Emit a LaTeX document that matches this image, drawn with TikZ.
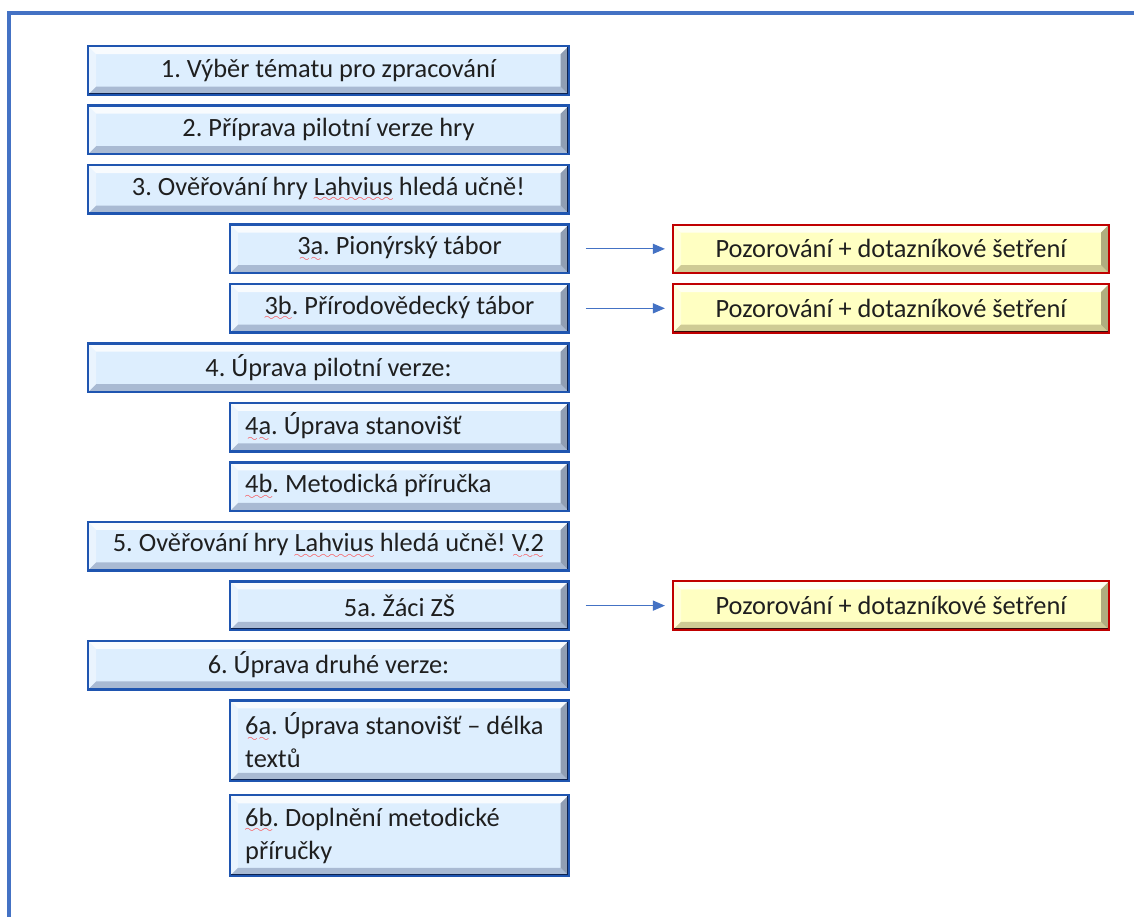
\documentclass[tikz,border=0pt]{standalone}
\usepackage{fontspec}
\setmainfont{Carlito}
\usetikzlibrary{positioning,arrows.meta}
\frenchspacing

\definecolor{frameblue}{HTML}{4472C4}
\definecolor{stepedge}{HTML}{1F55B0}
\definecolor{stepfill}{HTML}{DDEEFE}
\definecolor{stepshade}{HTML}{A9BAD3}
\definecolor{stepdark}{HTML}{0E2350}
\definecolor{noteedge}{HTML}{C00000}
\definecolor{notefill}{HTML}{FFFFC2}
\definecolor{noteshade}{HTML}{CFCB95}
\definecolor{notedark}{HTML}{3A0A0A}
\definecolor{linkblue}{HTML}{4472C4}

% red wavy spell-check mark under a word
\font\spellwave=lasy6
\newsavebox{\spellbox}
\newcommand{\spell}[1]{\sbox{\spellbox}{#1}\rlap{\textcolor{red!80}{\lower3.8pt\hbox to\wd\spellbox{\xleaders\hbox{\spellwave\char58}\hfill}}}\usebox{\spellbox}}

\tikzset{
  bevel/.style 2 args={path picture={
    \fill[white, opacity=.8] (path picture bounding box.north west) -- (path picture bounding box.north east)
      -- ([xshift=-1.6mm,yshift=-1.6mm]path picture bounding box.north east) -- ([xshift=1.6mm,yshift=-1.6mm]path picture bounding box.north west) -- cycle;
    \fill[white, opacity=.4] (path picture bounding box.north west) -- (path picture bounding box.south west)
      -- ([xshift=1.6mm,yshift=1.6mm]path picture bounding box.south west) -- ([xshift=1.6mm,yshift=-1.6mm]path picture bounding box.north west) -- cycle;
    \fill[#1] (path picture bounding box.south west) -- (path picture bounding box.south east)
      -- ([xshift=-1.6mm,yshift=1.6mm]path picture bounding box.south east) -- ([xshift=1.6mm,yshift=1.6mm]path picture bounding box.south west) -- cycle;
    \fill[#1!85!black] (path picture bounding box.north east) -- (path picture bounding box.south east)
      -- ([xshift=-1.6mm,yshift=1.6mm]path picture bounding box.south east) -- ([xshift=-1.6mm,yshift=-1.6mm]path picture bounding box.north east) -- cycle;
    \draw[#2, line width=1.6pt] ([yshift=.5pt]path picture bounding box.north east) -- (path picture bounding box.south east) -- (path picture bounding box.south west);
  }},
  stepbox/.style={draw=stepedge, line width=1.4pt, fill=stepfill, minimum height=0.97cm, inner xsep=0.3cm,
    text=black!88, font=\fontsize{15}{18.8}\selectfont, bevel={stepshade}{stepdark}},
  widebox/.style={stepbox, minimum width=9.61cm},
  subbox/.style={stepbox, minimum width=6.77cm},
  leftbox/.style={subbox, align=flush left, text width=6.17cm},
  notebox/.style={stepbox, draw=noteedge, line width=1.2pt, fill=notefill, minimum width=8.72cm, bevel={noteshade}{notedark}},
  link/.style={-{Triangle[length=2.4mm,width=2mm]}, draw=linkblue, fill=linkblue, line width=0.7pt,
    shorten <=0.32cm, shorten >=0.14cm}
}

\begin{document}
\begin{tikzpicture}
  \useasboundingbox (0,0) rectangle (22.68,-18.32);
  \draw[frameblue, line width=1.8pt] (0.18,-18.4) |- (22.8,-0.26);

  \node[widebox, anchor=north west] (b1) at (1.74,-0.9) {1. Výběr tématu pro zpracování};
  \node[widebox, below=0.17cm of b1.south east, anchor=north east] (b2) {2. Příprava pilotní verze hry};
  \node[widebox, below=0.17cm of b2.south east, anchor=north east] (b3) {3. Ověřování hry \spell{Lahvius} hledá učně!};
  \node[subbox, below=0.17cm of b3.south east, anchor=north east] (b3a) {\spell{3a}. Pionýrský tábor};
  \node[subbox, below=0.17cm of b3a.south east, anchor=north east] (b3b) {\spell{3b}. Přírodovědecký tábor};
  \node[widebox, below=0.17cm of b3b.south east, anchor=north east] (b4) {4. Úprava pilotní verze:};
  \node[leftbox, below=0.17cm of b4.south east, anchor=north east] (b4a) {\spell{4a}. Úprava stanovišť};
  \node[leftbox, below=0.17cm of b4a.south east, anchor=north east] (b4b) {\spell{4b}. Metodická příručka};
  \node[widebox, below=0.17cm of b4b.south east, anchor=north east] (b5) {5. Ověřování hry \spell{Lahvius} hledá učně! \spell{V.2}};
  \node[subbox, below=0.17cm of b5.south east, anchor=north east] (b5a) {5a. Žáci ZŠ};
  \node[widebox, below=0.17cm of b5a.south east, anchor=north east] (b6) {6. Úprava druhé verze:};
  \node[leftbox, minimum height=1.61cm, below=0.17cm of b6.south east, anchor=north east] (b6a) {\spell{6a}. Úprava stanovišť – délka\\textů};
  \node[leftbox, minimum height=1.61cm, below=0.24cm of b6a.south east, anchor=north east] (b6b) {\spell{6b}. Doplnění metodické\\příručky};

  \node[notebox, right=2.04cm of b3a] (o3a) {Pozorování + dotazníkové šetření};
  \node[notebox, right=2.04cm of b3b] (o3b) {Pozorování + dotazníkové šetření};
  \node[notebox, right=2.04cm of b5a] (o5a) {Pozorování + dotazníkové šetření};

  \draw[link] (b3a) -- (o3a);
  \draw[link] (b3b) -- (o3b);
  \draw[link] (b5a) -- (o5a);
\end{tikzpicture}
\end{document}
